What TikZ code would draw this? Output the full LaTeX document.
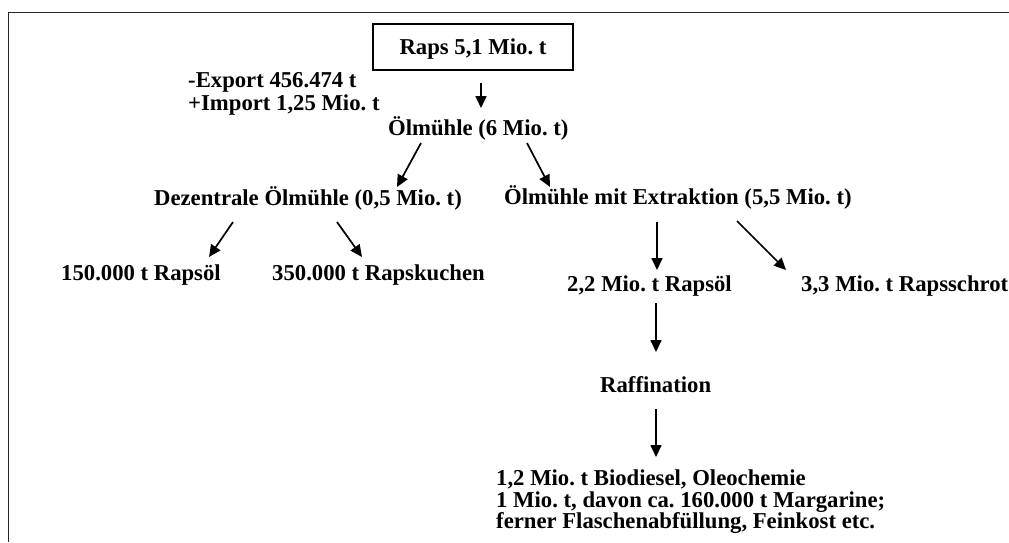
\documentclass[tikz,border=0pt]{standalone}
\usepackage{fontspec}
\setmainfont{Liberation Serif}
\usetikzlibrary{arrows.meta}
\frenchspacing
\begin{document}
\begin{tikzpicture}[x=1pt,y=-1pt,
  txt/.style={inner sep=0pt, font=\fontsize{22.7}{21.5}\selectfont\bfseries\frenchspacing},
  lbl/.style={txt, anchor=base west},
  arr/.style={line width=1.7pt, -{Triangle[length=12pt,width=11pt]}},
  frame/.style={line width=1.3pt, draw=black!85}
]
\useasboundingbox (0,0) rectangle (1009,542);
% frame (cropped box)
\draw[frame] (1009,12.3) -- (8.3,12.3) -- (8.3,542);

% nodes
\node[txt, draw, line width=1.4pt, minimum width=200pt, minimum height=46pt,
      text height=18pt, text depth=4pt] (raps) at (473,47) {Raps 5,1 Mio. t};
\node[lbl] (export) at (188,87) {-Export 456.474 t};
\node[lbl] (import) at (188,110) {+Import 1,25 Mio. t};
\node[lbl] (oel) at (388,135) {Ölmühle (6 Mio. t)};
\node[lbl] (dez) at (154,205) {Dezentrale Ölmühle (0,5 Mio. t)};
\node[lbl] (ext) at (504,204) {Ölmühle mit Extraktion (5,5 Mio. t)};
\node[lbl] (roel1) at (61,280) {150.000 t Rapsöl};
\node[lbl] (kuchen) at (272,280) {350.000 t Rapskuchen};
\node[lbl] (roel2) at (567,291) {2,2 Mio. t Rapsöl};
\node[lbl] (schrot) at (801,291) {3,3 Mio. t Rapsschrot};
\node[lbl] (raff) at (600,392) {Raffination};
\node[txt, anchor=north west, align=left] (final) at (496,470)
  {1,2 Mio. t Biodiesel, Oleochemie\\
   1 Mio. t, davon ca. 160.000 t Margarine;\\
   ferner Flaschenabfüllung, Feinkost etc.};

% connector end points
\coordinate (a1s) at (481,83);  \coordinate (a1e) at (481,108);
\coordinate (a2s) at (421,143); \coordinate (a2e) at (397,187);
\coordinate (a3s) at (527,143); \coordinate (a3e) at (550,187);
\coordinate (a4s) at (233,222); \coordinate (a4e) at (209,257);
\coordinate (a5s) at (337,222); \coordinate (a5e) at (362,257);
\coordinate (a6s) at (657,222); \coordinate (a6e) at (657,270);
\coordinate (a7s) at (737,221); \coordinate (a7e) at (786,270);
\coordinate (a8s) at (656,303); \coordinate (a8e) at (656,352);
\coordinate (a9s) at (656,409); \coordinate (a9e) at (656,457);

% connectors
\draw[arr] (a1s) -- (a1e);
\draw[arr] (a2s) -- (a2e);
\draw[arr] (a3s) -- (a3e);
\draw[arr] (a4s) -- (a4e);
\draw[arr] (a5s) -- (a5e);
\draw[arr] (a6s) -- (a6e);
\draw[arr] (a7s) -- (a7e);
\draw[arr] (a8s) -- (a8e);
\draw[arr] (a9s) -- (a9e);
\end{tikzpicture}
\end{document}
